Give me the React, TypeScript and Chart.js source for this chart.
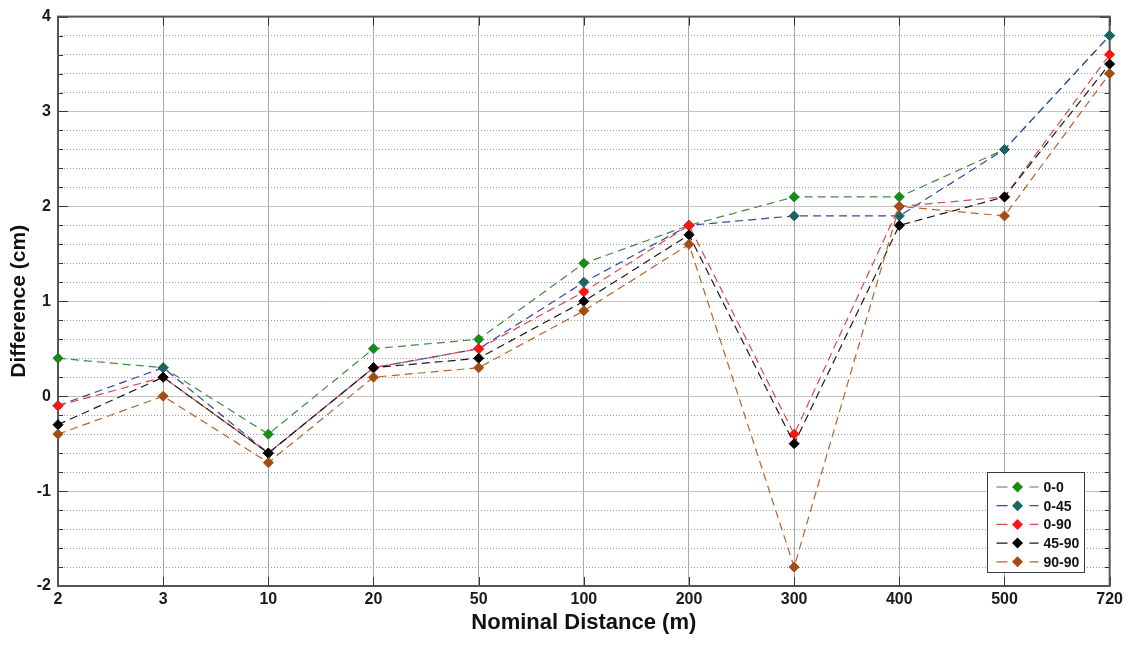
import React, { useEffect, useRef } from 'react';
import { Chart, registerables } from 'chart.js';

Chart.register(...registerables);

// ---- data ----
const categories = ['2', '3', '10', '20', '50', '100', '200', '300', '400', '500', '720'];
const series00 = [0.4, 0.3, -0.4, 0.5, 0.6, 1.4, 1.8, 2.1, 2.1, 2.6, 3.8];
const series045 = [-0.1, 0.3, -0.6, 0.3, 0.5, 1.2, 1.8, 1.9, 1.9, 2.6, 3.8];
const series090 = [-0.1, 0.2, -0.6, 0.3, 0.5, 1.1, 1.8, -0.4, 2.0, 2.1, 3.6];
const series4590 = [-0.3, 0.2, -0.6, 0.3, 0.4, 1.0, 1.7, -0.5, 1.8, 2.1, 3.5];
const series9090 = [-0.4, 0.0, -0.7, 0.2, 0.3, 0.9, 1.6, -1.8, 2.0, 1.9, 3.4];
const seriesLabels = ['0-0', '0-45', '0-90', '45-90', '90-90'];
const yMin = -2;
const yMax = 4;
const yStep = 0.2;
const xTitle = 'Nominal Distance (m)';
const yTitle = 'Difference (cm)';

const markerColors = ['#178a17', '#1d6464', '#ff1414', '#000000', '#a34d14'];
const lineColors = ['#3f8a3f', '#3446aa', '#d64a4a', '#1a1a1a', '#b8622a'];

const FONT = '"Liberation Sans", Arial, sans-serif';

const isMajor = (v: number) => Math.abs(v - Math.round(v)) < 1e-6;

const framePlugin = {
  id: 'matlabFrame',
  beforeDatasetsDraw(chart: any) {
    const { ctx, chartArea: a, scales } = chart;
    ctx.save();
    ctx.setLineDash([]);
    ctx.strokeStyle = '#333333';
    ctx.lineWidth = 1;
    ctx.beginPath();
    scales.y.ticks.forEach((t: any) => {
      const py = Math.round(scales.y.getPixelForValue(t.value)) + 0.5;
      const len = isMajor(t.value) ? 10 : 5;
      ctx.moveTo(a.left, py);
      ctx.lineTo(a.left + len, py);
      ctx.moveTo(a.right, py);
      ctx.lineTo(a.right - len, py);
    });
    scales.x.ticks.forEach((_t: any, i: number) => {
      const px = Math.round(scales.x.getPixelForTick(i)) + 0.5;
      ctx.moveTo(px, a.top);
      ctx.lineTo(px, a.top + 9);
      ctx.moveTo(px, a.bottom);
      ctx.lineTo(px, a.bottom - 9);
    });
    ctx.stroke();
    ctx.strokeStyle = '#555555';
    ctx.lineWidth = 2;
    ctx.strokeRect(a.left, a.top, a.width, a.height);
    ctx.restore();
  },
};

const legendPlugin = {
  id: 'insideLegend',
  afterDatasetsDraw(chart: any) {
    const { ctx, chartArea: a } = chart;
    const w = 97;
    const h = 100;
    const x0 = Math.round(a.right - 26 - w) + 0.5;
    const y0 = Math.round(a.bottom - 14 - h) + 0.5;
    ctx.save();
    ctx.setLineDash([]);
    ctx.fillStyle = '#ffffff';
    ctx.fillRect(x0, y0, w, h);
    ctx.strokeStyle = '#3a3a3a';
    ctx.lineWidth = 1;
    ctx.strokeRect(x0, y0, w, h);
    chart.data.datasets.forEach((ds: any, i: number) => {
      const cy = y0 + 14.5 + i * 18.7;
      ctx.strokeStyle = ds.borderColor;
      ctx.lineWidth = 1.2;
      ctx.beginPath();
      ctx.moveTo(x0 + 9, cy);
      ctx.lineTo(x0 + 20, cy);
      ctx.moveTo(x0 + 42, cy);
      ctx.lineTo(x0 + 51, cy);
      ctx.stroke();
      const cx = x0 + 30;
      const r = 5.5;
      ctx.fillStyle = ds.pointBackgroundColor;
      ctx.beginPath();
      ctx.moveTo(cx - r, cy);
      ctx.lineTo(cx, cy - r);
      ctx.lineTo(cx + r, cy);
      ctx.lineTo(cx, cy + r);
      ctx.closePath();
      ctx.fill();
      ctx.fillStyle = '#111111';
      ctx.font = `bold 14px ${FONT}`;
      ctx.textAlign = 'left';
      ctx.textBaseline = 'middle';
      ctx.fillText(ds.label, x0 + 56, cy + 1);
    });
    ctx.restore();
  },
};

export default function App() {
  const ref = useRef<HTMLCanvasElement>(null);

  useEffect(() => {
    const allSeries = [series00, series045, series090, series4590, series9090];
    const datasets = allSeries.map((data, i) => ({
      label: seriesLabels[i],
      data,
      order: allSeries.length - 1 - i,
      borderColor: lineColors[i],
      backgroundColor: markerColors[i],
      borderWidth: 1.2,
      borderDash: [8, 5],
      pointStyle: 'rectRot',
      pointRadius: 5,
      pointBackgroundColor: markerColors[i],
      pointBorderColor: markerColors[i],
      pointBorderWidth: 1,
      tension: 0,
      clip: false,
    }));

    const chart = new Chart(ref.current as HTMLCanvasElement, {
      type: 'line',
      data: { labels: categories, datasets: datasets as any },
      options: {
        animation: false,
        responsive: false,
        layout: { padding: { top: 13, right: 17, left: 0, bottom: 0 } },
        plugins: {
          legend: { display: false },
          tooltip: { enabled: false },
        },
        scales: {
          x: {
            type: 'category',
            offset: false,
            grid: { color: '#a8a8a8', lineWidth: 1, drawTicks: false, offset: false },
            border: { display: false },
            ticks: {
              color: '#1a1a1a',
              font: { family: FONT, size: 16, weight: 'bold' },
              padding: 4,
              autoSkip: false,
              maxRotation: 0,
            },
            title: {
              display: true,
              text: xTitle,
              color: '#111111',
              font: { family: FONT, size: 22, weight: 'bold' },
              padding: { top: 0, bottom: 9 },
            },
            afterFit: (s: any) => {
              s.height = 59;
            },
          } as any,
          y: {
            type: 'linear',
            min: yMin,
            max: yMax,
            grid: {
              color: (c: any) => (c.tick && isMajor(c.tick.value) ? '#c2c2c2' : '#9a9a9a'),
              lineWidth: 1,
              drawTicks: false,
            },
            border: {
              display: false,
              dash: (c: any) => (c.tick && !isMajor(c.tick.value) ? [1, 2] : []),
            },
            ticks: {
              stepSize: yStep,
              autoSkip: false,
              color: '#1a1a1a',
              font: { family: FONT, size: 16, weight: 'bold' },
              padding: 7,
              callback: (v: any) => (isMajor(Number(v)) ? String(Math.round(Number(v))) : ''),
            },
            title: {
              display: true,
              text: yTitle,
              color: '#111111',
              font: { family: FONT, size: 21, weight: 'bold' },
              padding: { top: 7, bottom: 0 },
            },
            afterFit: (s: any) => {
              s.width = 58;
            },
          } as any,
        },
      },
      plugins: [framePlugin, legendPlugin],
    });
    return () => chart.destroy();
  }, []);

  return (
    <div style={{ position: 'fixed', left: 0, top: 0, width: 1127, height: 645, background: '#ffffff' }}>
      <canvas ref={ref} width={1127} height={645} style={{ display: 'block' }} />
    </div>
  );
}
